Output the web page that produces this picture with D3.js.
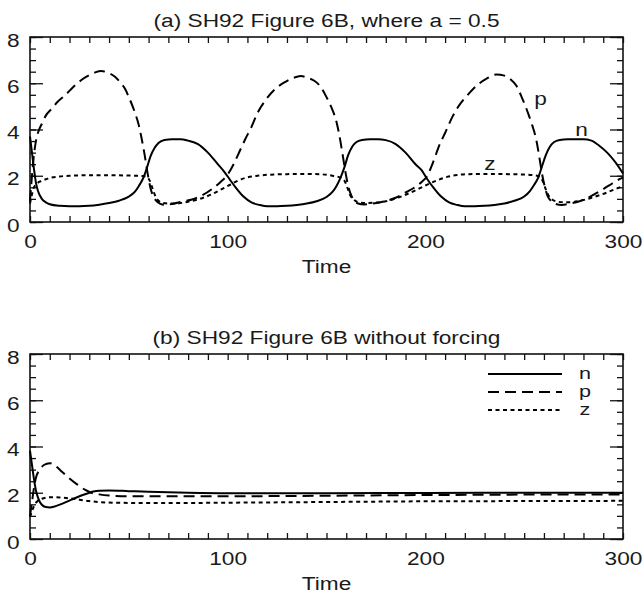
<!DOCTYPE html>
<html><head><meta charset="utf-8">
<script src="https://cdn.jsdelivr.net/npm/d3@7"></script>
<style>body{margin:0;background:#fff}</style>
</head><body><svg id="c" width="642" height="595"></svg>
<script>
// ---- tick labels ----
const xTicks = [0, 100, 200, 300];
const yTicks = [0, 2, 4, 6, 8];
const xMinorStep = 10, yMinorStep = 0.5;
const titles = ["(a) SH92 Figure 6B, where  a = 0.5", "(b) SH92 Figure 6B without forcing"];
const seriesNames = ["n", "p", "z"];

// ---- panel (a): forced ----
const tNa = [0,1,2,3,4,6,8,10,15,20,25,30,35,40,45,50,53,55,57,59,61,63,65,68,72,76,80,85,90,95,98,101,104,108,112,116,120,125,130,135,140,145,150,153,155,157,159,161,163,165,168,172,176,180,185,190,195,198,201,204,208,212,216,220,225,230,235,240,245,250,253,255,257,259,261,263,265,268,272,280,284,288,292,296,300];
const nA  = [3.7,3.0,2.3,1.7,1.35,1.0,0.85,0.77,0.7,0.68,0.68,0.7,0.75,0.82,0.92,1.1,1.3,1.55,1.85,2.3,2.85,3.2,3.42,3.55,3.58,3.58,3.52,3.37,3.0,2.5,2.2,1.85,1.5,1.1,0.85,0.74,0.68,0.68,0.7,0.74,0.8,0.9,1.08,1.3,1.55,1.9,2.35,2.9,3.25,3.45,3.55,3.58,3.58,3.54,3.37,3.0,2.5,2.25,1.85,1.5,1.1,0.85,0.74,0.68,0.68,0.7,0.74,0.8,0.92,1.1,1.35,1.6,1.9,2.4,2.9,3.25,3.45,3.55,3.58,3.58,3.52,3.3,3.0,2.6,2.1];

const tPa = [0,1,2,3,4,6,8,11,14,18,22,26,30,33,36,39,43,46,48,50,53,55,56.5,58,59.5,61,62.5,64,66,68,72,77,82,87,92,96,100,103,106,109,112,115,119,124,129,133,137,141,144,147,150,153,155,156.5,158,159.5,161,162.5,164,166,169,173,179,185,190,195,198,201,204,207,210,214,218,222,226,231,236,240,243,246,249,252,254,256,257.5,259,260.5,262,264,266,269,273,278,283,288,293,297,300];
const pA  = [0.9,2.0,2.9,3.5,3.85,4.25,4.6,4.9,5.2,5.5,5.85,6.14,6.35,6.47,6.53,6.47,6.28,6.0,5.77,5.4,4.75,4.2,3.6,2.9,2.1,1.45,1.1,0.9,0.78,0.74,0.78,0.88,0.97,1.15,1.42,1.7,2.05,2.5,3.05,3.6,4.1,4.7,5.25,5.75,6.05,6.22,6.31,6.22,6.1,5.85,5.4,4.85,4.35,3.75,3.0,2.2,1.55,1.15,0.92,0.8,0.76,0.79,0.89,1.05,1.28,1.52,1.72,2.0,2.6,3.3,3.85,4.6,5.15,5.55,5.9,6.2,6.38,6.33,6.18,5.9,5.35,4.7,4.2,3.6,2.9,2.1,1.5,1.1,0.88,0.78,0.74,0.79,0.9,1.08,1.32,1.58,1.8,1.92];

const tZa = [0,1,2,3,4,6,8,11,15,20,30,40,50,57,59,60.5,62,63.5,65,67,70,74,80,86,92,97,101,105,110,115,120,130,140,148,153,157,159,160.5,162,164,166.5,170,175,180,186,192,197,201,206,211,216,222,232,242,250,255,258,259.5,261,262.5,264.5,267,270,274,280,286,292,296,300];
const zA  = [0.8,1.2,1.5,1.62,1.7,1.78,1.85,1.92,1.97,2.0,2.02,2.02,2.01,1.99,1.95,1.8,1.45,1.1,0.92,0.83,0.8,0.8,0.88,1.0,1.2,1.42,1.6,1.78,1.93,2.0,2.04,2.07,2.08,2.06,2.0,1.92,1.8,1.5,1.15,0.95,0.85,0.82,0.84,0.9,1.05,1.25,1.45,1.62,1.8,1.95,2.03,2.07,2.08,2.07,2.05,2.02,1.95,1.75,1.4,1.12,0.95,0.88,0.85,0.86,0.95,1.1,1.28,1.42,1.55];

// ---- panel (b): unforced ----
const tNb = [0,1,2,3,4,5,6,8,10,13,17,21,25,29,32,35,40,50,60,80,100,150,200,250,300];
const nB  = [3.82,3.2,2.6,2.1,1.8,1.6,1.48,1.38,1.36,1.42,1.55,1.7,1.85,1.97,2.05,2.09,2.1,2.07,2.04,2.0,1.98,1.98,1.99,2.0,2.0];
const tPb = [0,1,2,3,5,7,10,13,16,20,24,28,31,35,40,50,70,100,150,200,250,300];
const pB  = [1.0,1.6,2.2,2.65,3.0,3.2,3.28,3.15,2.92,2.62,2.35,2.12,2.0,1.93,1.88,1.85,1.85,1.85,1.87,1.9,1.92,1.93];
const tZb = [0,1,2,3,4,6,9,12,16,20,25,30,35,42,55,80,100,150,200,250,300];
const zB  = [0.95,1.2,1.42,1.57,1.65,1.74,1.8,1.81,1.79,1.76,1.7,1.64,1.6,1.57,1.56,1.56,1.57,1.6,1.63,1.64,1.65];

const svg = d3.select("#c");
const FONT = "'Liberation Sans', Arial, Helvetica, sans-serif";
const FS = 18.6, SX = 1.22;
const styles = {
  n: {dash: null},
  p: {dash: "11,6"},
  z: {dash: "4,3.5"}
};

function zip(t, v) { return t.map((d, i) => [d, v[i]]); }

function label(x, y, s, anchor, fs, sx) {
  const f = fs || FS;
  svg.append("text")
    .attr("transform", `translate(${x},${y}) scale(${sx || SX},1)`)
    .attr("text-anchor", anchor || "middle")
    .attr("font-family", FONT).attr("font-size", f).attr("fill", "#1a1a1a")
    .text(s);
}

function panel(top, title, data, legend, inlineLabels) {
  const L = 30, R = 623, H = 185;
  const x = d3.scaleLinear().domain([0, 300]).range([L, R]);
  const y = d3.scaleLinear().domain([0, 8]).range([top + H, top]);
  const xMinor = d3.range(0, 300 + 0.01, xMinorStep);
  const yMinor = d3.range(0, 8 + 0.01, yMinorStep);

  function styleAxis(g) {
    g.select(".domain").remove();
    g.selectAll("line").attr("stroke", "#111").attr("stroke-width", 1.3);
  }
  // ticks (inward)
  svg.append("g").attr("transform", `translate(0,${y(0)})`)
    .call(d3.axisBottom(x).tickValues(xMinor).tickSize(-6).tickFormat("")).call(styleAxis);
  svg.append("g").attr("transform", `translate(0,${y(8)})`)
    .call(d3.axisTop(x).tickValues(xMinor).tickSize(-6).tickFormat("")).call(styleAxis);
  svg.append("g").attr("transform", `translate(${L},0)`)
    .call(d3.axisLeft(y).tickValues(yMinor).tickSize(-6).tickFormat("")).call(styleAxis);
  svg.append("g").attr("transform", `translate(${L},0)`)
    .call(d3.axisLeft(y).tickValues(yTicks).tickSize(-13).tickFormat("")).call(styleAxis);
  svg.append("g").attr("transform", `translate(${R},0)`)
    .call(d3.axisRight(y).tickValues(yMinor).tickSize(-6).tickFormat("")).call(styleAxis);
  svg.append("g").attr("transform", `translate(${R},0)`)
    .call(d3.axisRight(y).tickValues(yTicks).tickSize(-13).tickFormat("")).call(styleAxis);

  // tick labels
  const gx = svg.append("g").attr("transform", `translate(0,${y(0)})`)
    .call(d3.axisBottom(x).tickValues(xTicks).tickSize(0).tickFormat(d3.format("d")));
  gx.select(".domain").remove();
  gx.attr("font-family", FONT).attr("font-size", FS);
  gx.selectAll("text").attr("y", 26).attr("dy", null).attr("fill", "#1a1a1a")
    .attr("transform", `scale(${SX},1)`);
  const gy = svg.append("g").attr("transform", `translate(${L},0)`)
    .call(d3.axisLeft(y).tickValues(yTicks).tickSize(0).tickFormat(d3.format("d")));
  gy.select(".domain").remove();
  gy.attr("font-family", FONT).attr("font-size", FS);
  gy.selectAll("text").attr("x", -10.5 / SX).attr("dy", null).attr("y", 9).attr("fill", "#1a1a1a")
    .attr("transform", `scale(${SX},1)`);

  // frame
  svg.append("rect").attr("x", L).attr("y", top).attr("width", R - L).attr("height", H)
    .attr("fill", "none").attr("stroke", "#111").attr("stroke-width", 1.6);

  // curves
  const line = d3.line().x(d => x(d[0])).y(d => y(d[1])).curve(d3.curveMonotoneX);
  data.forEach(s => {
    svg.append("path").datum(s.pts).attr("d", line)
      .attr("fill", "none").attr("stroke", "#000").attr("stroke-width", 2)
      .attr("stroke-dasharray", styles[s.name].dash);
  });

  // titles
  label((L + R) / 2, top - 10.5, title);
  label((L + R) / 2, top + H + 51, "Time");

  if (inlineLabels) inlineLabels.forEach(d => label(d.x, d.y, d.s));
  if (legend) {
    seriesNames.forEach((nm, i) => {
      const ly = top + 20 + i * 18;
      svg.append("line").attr("x1", 488).attr("x2", 562).attr("y1", ly).attr("y2", ly)
        .attr("stroke", "#000").attr("stroke-width", 2).attr("stroke-dasharray", styles[nm].dash);
      label(585, ly + 5, nm, "middle", 16, 1.35);
    });
  }
}

panel(37, titles[0], [
  {name: "n", pts: zip(tNa, nA)},
  {name: "p", pts: zip(tPa, pA)},
  {name: "z", pts: zip(tZa, zA)}
], false, [
  {x: 540.5, y: 105, s: "p"},
  {x: 581.5, y: 136, s: "n"},
  {x: 490, y: 170, s: "z"}
]);

panel(354, titles[1], [
  {name: "n", pts: zip(tNb, nB)},
  {name: "p", pts: zip(tPb, pB)},
  {name: "z", pts: zip(tZb, zB)}
], true, null);
</script>
</body></html>
